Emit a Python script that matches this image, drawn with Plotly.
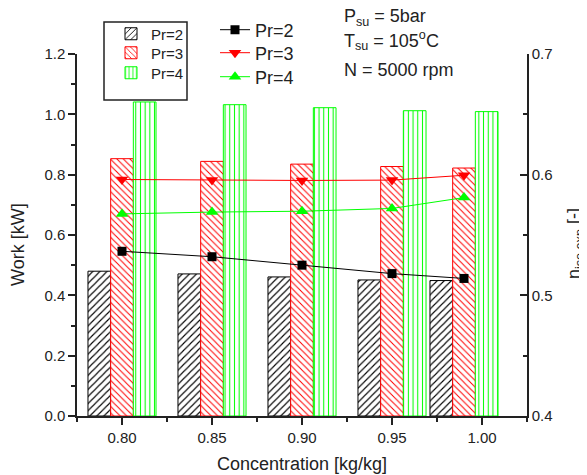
import plotly.graph_objects as go

# ---------------- data ----------------
conc = [0.80, 0.85, 0.90, 0.95, 0.99]
work_pr2 = [0.480, 0.471, 0.461, 0.451, 0.449]
work_pr3 = [0.853, 0.844, 0.835, 0.827, 0.822]
work_pr4 = [1.041, 1.032, 1.022, 1.012, 1.009]
eta_pr2 = [0.5365, 0.532, 0.525, 0.518, 0.514]
eta_pr3 = [0.596, 0.5955, 0.5952, 0.5955, 0.5995]
eta_pr4 = [0.5675, 0.569, 0.5697, 0.572, 0.581]
series_names = ["Pr=2", "Pr=3", "Pr=4"]
xtick_vals = [0.80, 0.85, 0.90, 0.95, 1.00]
xtick_text = ["0.80", "0.85", "0.90", "0.95", "1.00"]

# ---------------- layout constants ----------------
W, H = 587, 475
OFF = 8                      # page body margin offset of the rendered figure
PL, PR, PT, PB = 77, 527, 54, 416   # wanted plot-area edges on the page
ML, MR, MT, MB = PL - OFF, W - (PR - OFF), PT - OFF, H - (PB - OFF)
PW, PH = PR - PL, PB - PT
FONT = "Liberation Sans, Arial, sans-serif"
TXT = "#222"
BW = 0.0126


def px_x(px):
    return (px - PL) / PW


def px_y(py):
    return (PB - py) / PH


def cx(px):
    return (px - OFF) / W


def cy(py):
    return 1 - (py - OFF) / H


fig = go.Figure()

bar_styles = [
    ("black", "/", -1.5, 5),
    ("#ff0000", "\\", -0.5, 4.6),
    ("#00ff00", "|", 0.5, 4.7),
]
bar_legends = ["legend", "legend3", "legend4"]
for name, vals, (col, shp, off, sz), lg in zip(series_names, [work_pr2, work_pr3, work_pr4], bar_styles, bar_legends):
    fig.add_trace(go.Bar(
        x=conc, y=vals, name=name, width=BW, offset=off * BW,
        marker=dict(color="white", line=dict(color=col, width=1),
                    pattern=dict(shape=shp, fgcolor=col, bgcolor="white",
                                 size=sz, solidity=0.22, fillmode="replace")),
        legend=lg, yaxis="y", showlegend=True,
    ))

line_styles = [
    ("black", "square", 9),
    ("#ff0000", "triangle-down", 11),
    ("#00ff00", "triangle-up", 11),
]
line_legends = ["legend2", "legend5", "legend6"]
for name, vals, (col, sym, ms), lg in zip(series_names, [eta_pr2, eta_pr3, eta_pr4], line_styles, line_legends):
    fig.add_trace(go.Scatter(
        x=conc, y=vals, name=name, mode="lines+markers",
        line=dict(color=col, width=1),
        marker=dict(symbol=sym, size=ms, color=col),
        legend=lg, yaxis="y2", showlegend=True,
    ))

axis_common = dict(showline=True, linecolor=TXT, linewidth=1.5, showgrid=False,
                   zeroline=False, tickcolor=TXT, tickwidth=1.5, automargin=False,
                   tickfont=dict(size=15, family=FONT, color=TXT))


def leg(px_left, py_mid, size):
    return dict(xref="container", yref="container", x=cx(px_left), y=cy(py_mid),
                xanchor="left", yanchor="middle", bgcolor="rgba(0,0,0,0)",
                font=dict(size=size, family=FONT, color=TXT), itemwidth=30, visible=True)


def ann(text, px, py, size=18, angle=0, xanchor="left"):
    return dict(text=text, x=px_x(px), y=px_y(py), xref="paper", yref="paper",
                xanchor=xanchor, yanchor="middle", showarrow=False, textangle=angle,
                font=dict(size=size, family=FONT, color=TXT))


fig.update_layout(
    width=W, height=H,
    showlegend=True,
    margin=dict(l=ML, r=MR, t=MT, b=MB, autoexpand=False),
    plot_bgcolor="white", paper_bgcolor="white",
    barmode="overlay",
    font=dict(family=FONT, size=15, color=TXT),
    xaxis=dict(range=[0.775, 1.025], tickvals=xtick_vals, ticktext=xtick_text,
               ticks="outside", ticklen=7,
               minor=dict(dtick=0.025, tick0=0.775, ticks="outside", ticklen=4, tickcolor=TXT, tickwidth=1.5),
               **axis_common),
    yaxis=dict(range=[0, 1.2], dtick=0.2, tickformat=".1f", ticks="outside", ticklen=7,
               minor=dict(dtick=0.1, ticks="outside", ticklen=4, tickcolor=TXT, tickwidth=1.5),
               **axis_common),
    yaxis2=dict(range=[0.4, 0.7], dtick=0.1, tickformat=".1f", overlaying="y", side="right",
                ticks="inside", ticklen=7,
                minor=dict(dtick=0.05, ticks="inside", ticklen=4, tickcolor=TXT, tickwidth=1.5),
                **axis_common),
    legend=leg(111, 34, 15),
    legend3=leg(111, 53, 15),
    legend4=leg(111, 73, 15),
    legend2=leg(215, 30, 18),
    legend5=leg(215, 53, 18),
    legend6=leg(215, 77, 18),
    shapes=[dict(type="rect", xref="paper", yref="paper",
                 x0=px_x(104), x1=px_x(187), y0=px_y(100), y1=px_y(22),
                 line=dict(color=TXT, width=1.5), fillcolor="rgba(0,0,0,0)", layer="above")],
    annotations=[
        ann("P<sub>su</sub> = 5bar", 342, 17),
        ann("T<sub>su</sub> = 105<sup>o</sup>C", 342, 41),
        ann("N = 5000 rpm", 342, 70),
        ann("Concentration [kg/kg]", 302, 464, xanchor="center"),
        ann("Work [kW]", 18, 244, angle=-90, xanchor="center"),
        ann("η<sub>iso,exp</sub> [-]", 575, 244, angle=-90, xanchor="center"),
    ],
)

fig.write_html("out.html")
